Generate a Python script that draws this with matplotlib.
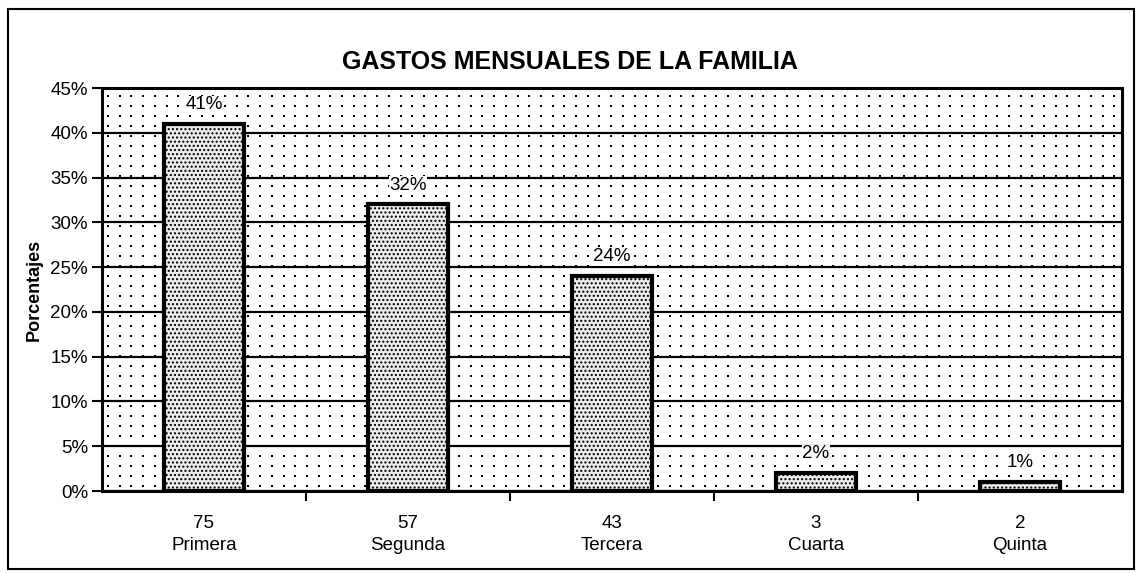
import numpy as np
import matplotlib.pyplot as plt
import matplotlib.patches as mpatches
from matplotlib.ticker import FuncFormatter

plt.rcParams['font.family'] = ['Liberation Sans', 'DejaVu Sans']
plt.rcParams['hatch.linewidth'] = 1.0
plt.rcParams['hatch.color'] = '#333333'

# datos
categorias = ['Primera', 'Segunda', 'Tercera', 'Cuarta', 'Quinta']
gastos = [75, 57, 43, 3, 2]
porcentajes = [41, 32, 24, 2, 1]
etiquetas = [f'{g}\n{c}' for g, c in zip(gastos, categorias)]

fig = plt.figure(figsize=(11.39, 5.73), dpi=100)
ax = fig.add_axes([102 / 1139, 82 / 573, 1020 / 1139, 403 / 573])

# marco exterior del grafico
fig.patches.append(mpatches.Rectangle((8 / 1139, 4 / 573), 1126 / 1139, 560 / 573,
                                      transform=fig.transFigure, fill=False,
                                      edgecolor='black', linewidth=1.5))

# fondo punteado del area de trazado (solo decoracion)
px = np.arange(6, 1020, 11.7) / 1020
py = np.arange(5, 403, 10.0) / 403
gx, gy = np.meshgrid(px, py)
ax.scatter(gx.ravel(), gy.ravel(), s=1.6, c='black', marker='s', linewidths=0,
           transform=ax.transAxes, zorder=0.5)

x = range(len(categorias))
ax.bar(x, porcentajes, width=0.39, color='#ececec', edgecolor='black',
       linewidth=3, hatch='....', zorder=3)

for xi, p in zip(x, porcentajes):
    ax.text(xi, p + 1.2, f'{p}%', ha='center', va='bottom', fontsize=13.5, zorder=4,
            bbox=dict(facecolor='white', edgecolor='none', pad=0.3))

ax.set_xlim(-0.5, len(categorias) - 0.5)
ax.set_ylim(0, 45)
ax.set_yticks(range(0, 46, 5))
ax.yaxis.set_major_formatter(FuncFormatter(lambda v, _: f'{v:.0f}%'))
ax.grid(axis='y', color='black', linewidth=1.6, zorder=1)
ax.set_axisbelow(True)

ax.set_xticks(list(x))
ax.set_xticklabels(etiquetas, fontsize=13.5, linespacing=1.4)
ax.tick_params(axis='x', length=0, pad=17)
ax.set_xticks([i + 0.5 for i in range(len(categorias) - 1)], minor=True)
ax.tick_params(axis='x', which='minor', length=7, width=1.5, direction='out')
ax.tick_params(axis='y', length=7, width=1.5, labelsize=13.5, pad=3)

for s in ax.spines.values():
    s.set_linewidth(2.2)

ax.set_ylabel('Porcentajes', fontsize=13, fontweight='bold')
ax.yaxis.set_label_coords(-59 / 1020, 0.5)
fig.text(0.5, 1 - 62 / 573, 'GASTOS MENSUALES DE LA FAMILIA', ha='center', va='center',
         fontsize=18, fontweight='bold')

fig.savefig('out.png', dpi=100)
